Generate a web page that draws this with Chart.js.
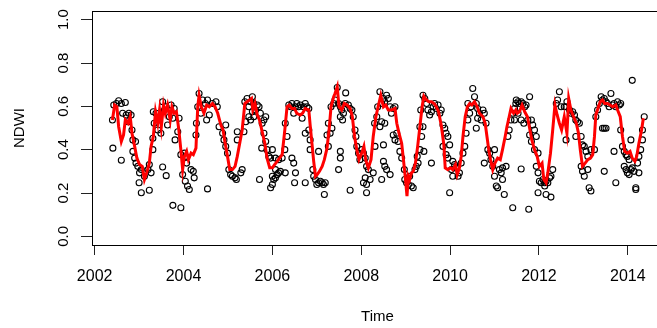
<!DOCTYPE html>
<html lang="en">
<head>
    <meta charset="UTF-8">
    <title>NDWI</title>
    <script src="https://cdn.jsdelivr.net/npm/chart.js"></script>
    <style>
        body { margin: 0; background: #fff; }
        #wrap { width: 657px; height: 328px; overflow: hidden; }
    </style>
    <script>
        // observed NDWI (open circles)
        const obsTime = [
            2002.40, 2002.43, 2002.49, 2002.54, 2002.60, 2002.69, 2002.41, 2002.60, 2002.63, 2002.71,
            2002.77, 2002.82, 2002.75, 2002.84, 2002.86, 2002.92, 2002.86, 2002.90, 2002.93, 2002.97,
            2003.01, 2003.05, 2003.00, 2003.05, 2003.23, 2003.12, 2003.20, 2003.27, 2003.23, 2003.31,
            2003.31, 2003.32, 2003.34, 2003.38, 2003.42, 2003.46, 2003.49, 2003.53, 2003.57, 2003.61,
            2003.64, 2003.68, 2003.72, 2003.76, 2003.79, 2003.81, 2003.87, 2003.90, 2003.53, 2003.61,
            2003.76, 2003.94, 2003.94, 2004.02, 2004.05, 2004.07, 2003.98, 2004.04, 2004.09, 2004.13,
            2004.17, 2004.22, 2004.24, 2004.28, 2004.29, 2004.35, 2004.32, 2004.39, 2004.43, 2004.49,
            2004.54, 2004.58, 2004.52, 2004.65, 2004.73, 2004.76, 2004.54, 2004.80, 2004.88, 2004.91,
            2004.95, 2004.99, 2005.02, 2005.06, 2005.10, 2005.16, 2005.19, 2005.21, 2005.21, 2004.95,
            2005.29, 2005.32, 2005.36, 2005.40, 2005.38, 2005.43, 2005.47, 2005.51, 2005.55, 2005.58,
            2005.62, 2005.66, 2005.70, 2005.47, 2005.51, 2005.55, 2005.58, 2005.73, 2005.77, 2005.81,
            2005.85, 2005.76, 2005.81, 2005.85, 2005.88, 2005.92, 2005.96, 2006.00, 2006.07, 2006.14,
            2006.22, 2006.28, 2006.00, 2006.03, 2006.07, 2006.11, 2006.14, 2006.18, 2006.00, 2006.07,
            2005.71, 2005.96, 2006.29, 2006.44, 2006.48, 2006.52, 2006.50, 2006.29, 2006.33, 2006.37,
            2006.41, 2006.44, 2006.48, 2006.52, 2006.55, 2006.59, 2006.63, 2006.67, 2006.70, 2006.74,
            2006.78, 2006.82, 2006.82, 2006.85, 2006.74, 2006.85, 2006.91, 2006.93, 2006.97, 2007.00,
            2007.04, 2007.08, 2007.12, 2007.15, 2007.19, 2007.17, 2006.74, 2007.04, 2007.23, 2007.30,
            2007.34, 2007.26, 2007.26, 2007.32, 2007.38, 2007.41, 2007.46, 2007.49, 2007.53, 2007.56,
            2007.53, 2007.58, 2007.60, 2007.64, 2007.65, 2007.71, 2007.75, 2007.79, 2007.82, 2007.53,
            2007.49, 2007.53, 2007.86, 2007.88, 2007.90, 2007.94, 2007.97, 2008.01, 2008.05, 2008.09,
            2008.12, 2008.16, 2008.09, 2008.12, 2008.05, 2008.12, 2007.75, 2008.20, 2008.27, 2008.31,
            2008.30, 2008.35, 2008.37,
            2008.42, 2008.46, 2008.50, 2008.53, 2008.57, 2008.61, 2008.65, 2008.68, 2008.72, 2008.76,
            2008.46, 2008.53, 2008.42, 2008.50, 2008.72, 2008.76, 2008.80, 2008.83, 2008.87, 2008.91,
            2008.50, 2008.53, 2008.57, 2008.65, 2008.46, 2008.97, 2008.98, 2009.02, 2009.06, 2009.13,
            2009.17, 2009.09, 2009.21, 2009.24, 2009.28, 2009.26, 2009.32, 2009.36, 2009.39, 2009.41,
            2009.58, 2009.32, 2009.34, 2009.39, 2009.43, 2009.47, 2009.50, 2009.54, 2009.58, 2009.62,
            2009.65, 2009.69, 2009.73, 2009.77, 2009.80, 2009.84, 2009.88, 2009.91, 2009.95, 2009.84,
            2009.99, 2009.91, 2009.95, 2010.06, 2010.10, 2010.14, 2010.18, 2010.06, 2010.03, 2010.21,
            2009.99, 2010.25, 2010.29, 2010.33, 2010.36, 2010.40, 2010.44, 2010.47, 2010.40, 2010.51,
            2010.55, 2010.59, 2010.62, 2010.66, 2010.70, 2010.59, 2010.62, 2010.74, 2010.77, 2010.81,
            2010.85, 2010.89, 2010.77, 2010.92, 2010.96, 2011.00, 2011.04, 2011.07, 2011.11, 2011.15,
            2011.18, 2011.22, 2011.18, 2011.00, 2011.26, 2011.30, 2011.33, 2011.37, 2011.41, 2011.45,
            2011.48, 2011.41,
            2011.45, 2011.49, 2011.53, 2011.56, 2011.60, 2011.64, 2011.68, 2011.71, 2011.53, 2011.60,
            2011.66, 2011.79, 2011.75, 2011.83, 2011.86, 2011.90, 2011.94, 2011.79, 2011.83, 2011.90,
            2011.98, 2011.60, 2011.77, 2011.94, 2011.98, 2012.01, 2012.05, 2012.09, 2012.13, 2012.16,
            2012.20, 2012.24, 2012.27, 2012.13, 2011.98, 2012.16, 2012.27, 2012.31, 2012.39, 2012.42,
            2012.46, 2012.50, 2012.57, 2012.61, 2012.63, 2012.69, 2012.72, 2012.76, 2012.80, 2012.83,
            2012.87, 2012.91, 2012.61, 2012.83, 2012.95, 2012.98, 2013.02, 2013.06, 2013.10, 2013.17,
            2013.25, 2012.95, 2012.98, 2013.02, 2013.10, 2013.13, 2013.17, 2013.47, 2013.28, 2013.32,
            2013.36, 2013.40, 2013.43, 2013.47, 2013.51, 2013.54, 2013.58, 2013.62, 2013.66, 2013.69,
            2013.73, 2013.77, 2013.81, 2013.84, 2013.43, 2013.47, 2013.51, 2013.84, 2013.88, 2013.92,
            2013.96, 2013.99, 2014.03, 2013.92, 2013.96, 2013.99, 2014.03, 2014.07, 2014.10, 2014.14,
            2014.22, 2014.25, 2014.29, 2014.33, 2014.33, 2014.37, 2013.69, 2014.07, 2013.73, 2014.18,
            2014.18, 2014.25, 2014.10
        ];
        const obsNdwi = [
            0.537, 0.606, 0.613, 0.626, 0.613, 0.618, 0.407, 0.351, 0.568, 0.560,
            0.568, 0.560, 0.529, 0.491, 0.445, 0.438, 0.392, 0.361, 0.338, 0.323,
            0.293, 0.308, 0.247, 0.201, 0.213, 0.277, 0.308, 0.293, 0.331, 0.400,
            0.453, 0.575, 0.522, 0.568, 0.491, 0.537, 0.476, 0.621, 0.583, 0.598,
            0.514, 0.552, 0.606, 0.545, 0.590, 0.445, 0.483, 0.545, 0.320, 0.280,
            0.143, 0.132, 0.377, 0.384, 0.369, 0.338, 0.285, 0.254, 0.232, 0.216,
            0.308, 0.300, 0.270, 0.468, 0.522, 0.659, 0.598, 0.568, 0.629, 0.613,
            0.629, 0.560, 0.537, 0.613, 0.621, 0.598, 0.219, 0.506, 0.476, 0.445,
            0.415, 0.384, 0.308, 0.285, 0.277, 0.270, 0.262, 0.445, 0.483, 0.514,
            0.293, 0.308, 0.483, 0.529, 0.621, 0.636, 0.598, 0.621, 0.644, 0.613,
            0.583, 0.606, 0.598, 0.552, 0.537, 0.575, 0.552, 0.568, 0.522, 0.537,
            0.552, 0.407, 0.476, 0.438, 0.400, 0.369, 0.361, 0.400, 0.361, 0.354,
            0.361, 0.400, 0.277, 0.262, 0.270, 0.285, 0.293, 0.300, 0.239, 0.308,
            0.262, 0.224, 0.293, 0.361, 0.338, 0.293, 0.247, 0.522, 0.461, 0.606,
            0.598, 0.613, 0.568, 0.598, 0.613, 0.598, 0.606, 0.545, 0.598, 0.613,
            0.598, 0.590, 0.491, 0.445, 0.476, 0.400, 0.308, 0.277, 0.262, 0.239,
            0.247, 0.254, 0.247, 0.239, 0.247, 0.193, 0.247, 0.392, 0.468, 0.476,
            0.499, 0.415, 0.522, 0.598, 0.613, 0.629, 0.687, 0.613, 0.598, 0.583,
            0.552, 0.537, 0.568, 0.613, 0.662, 0.606, 0.590, 0.583, 0.552, 0.392,
            0.308, 0.361, 0.491, 0.461, 0.415, 0.384, 0.354, 0.400, 0.384, 0.361,
            0.323, 0.308, 0.270, 0.239, 0.247, 0.201, 0.213, 0.262, 0.293, 0.415,
            0.522, 0.552, 0.598,
            0.667, 0.613, 0.636, 0.621, 0.651, 0.636, 0.598, 0.568, 0.590, 0.598,
            0.529, 0.522, 0.506, 0.422, 0.468, 0.445, 0.476, 0.438, 0.392, 0.361,
            0.346, 0.323, 0.308, 0.285, 0.262, 0.308, 0.262, 0.247, 0.239, 0.232,
            0.224, 0.277, 0.308, 0.323, 0.338, 0.369, 0.400, 0.461, 0.506, 0.392,
            0.338, 0.506, 0.583, 0.651, 0.636, 0.613, 0.583, 0.560, 0.575, 0.598,
            0.613, 0.590, 0.606, 0.568, 0.583, 0.514, 0.499, 0.476, 0.461, 0.415,
            0.422, 0.377, 0.361, 0.346, 0.331, 0.316, 0.277, 0.277, 0.308, 0.293,
            0.201, 0.338, 0.384, 0.415, 0.476, 0.537, 0.568, 0.598, 0.613, 0.682,
            0.644, 0.613, 0.590, 0.568, 0.537, 0.499, 0.545, 0.583, 0.568, 0.522,
            0.400, 0.384, 0.338, 0.354, 0.323, 0.277, 0.232, 0.224, 0.308, 0.293,
            0.262, 0.193, 0.316, 0.400, 0.323, 0.461, 0.491, 0.537, 0.568, 0.590,
            0.613, 0.132,
            0.537, 0.629, 0.621, 0.613, 0.621, 0.613, 0.598, 0.606, 0.568, 0.537,
            0.522, 0.644, 0.537, 0.537, 0.514, 0.491, 0.461, 0.468, 0.438, 0.400,
            0.384, 0.311, 0.125, 0.323, 0.293, 0.254, 0.247, 0.262, 0.247, 0.254,
            0.247, 0.270, 0.277, 0.232, 0.201, 0.193, 0.181, 0.308, 0.613, 0.629,
            0.667, 0.598, 0.598, 0.598, 0.621, 0.583, 0.568, 0.575, 0.560, 0.537,
            0.529, 0.522, 0.445, 0.461, 0.461, 0.422, 0.415, 0.392, 0.369, 0.400,
            0.400, 0.323, 0.300, 0.277, 0.308, 0.224, 0.209, 0.300, 0.552, 0.583,
            0.613, 0.644, 0.629, 0.636, 0.621, 0.613, 0.598, 0.659, 0.606, 0.613,
            0.598, 0.621, 0.606, 0.613, 0.499, 0.499, 0.499, 0.491, 0.415, 0.392,
            0.377, 0.369, 0.354, 0.323, 0.308, 0.293, 0.285, 0.308, 0.316, 0.300,
            0.338, 0.369, 0.400, 0.445, 0.491, 0.552, 0.392, 0.445, 0.247, 0.224,
            0.216, 0.293, 0.720
        ];

        // smoothed NDWI (red line)
        const fitTime = [
            2002.40, 2002.45, 2002.50, 2002.54, 2002.60, 2002.65, 2002.69, 2002.75, 2002.80, 2002.84,
            2002.90, 2002.95, 2003.01, 2003.07, 2003.12, 2003.17, 2003.23, 2003.27, 2003.32, 2003.37,
            2003.42, 2003.46, 2003.50, 2003.55, 2003.59, 2003.64, 2003.70, 2003.74, 2003.79, 2003.84,
            2003.89, 2003.94, 2003.98, 2004.02, 2004.07, 2004.11, 2004.17, 2004.22, 2004.28, 2004.32,
            2004.35, 2004.40, 2004.46, 2004.52, 2004.58, 2004.65, 2004.71, 2004.77, 2004.84, 2004.89,
            2004.93, 2004.99, 2005.04, 2005.10, 2005.16, 2005.21,
            2005.32, 2005.38, 2005.43, 2005.49, 2005.53, 2005.56, 2005.61, 2005.66, 2005.71, 2005.77,
            2005.83, 2005.88, 2005.94, 2006.00, 2006.05, 2006.11, 2006.16, 2006.22, 2006.28, 2006.33,
            2006.38, 2006.44, 2006.50, 2006.55, 2006.63, 2006.68, 2006.74, 2006.82, 2006.85, 2006.89,
            2006.93, 2006.97, 2007.01, 2007.06, 2007.12, 2007.17, 2007.23, 2007.28, 2007.32, 2007.38,
            2007.41, 2007.46, 2007.50, 2007.56, 2007.62, 2007.68, 2007.75, 2007.80, 2007.85, 2007.90,
            2007.95, 2008.01, 2008.06, 2008.10, 2008.16, 2008.22, 2008.27, 2008.33, 2008.38,
            2008.44, 2008.50, 2008.55, 2008.61, 2008.68, 2008.76, 2008.80, 2008.85, 2008.91, 2008.95,
            2008.99, 2009.03, 2009.06, 2009.09, 2009.13, 2009.17, 2009.22, 2009.27, 2009.32, 2009.37,
            2009.41, 2009.47, 2009.52, 2009.58, 2009.64, 2009.69, 2009.74, 2009.80, 2009.86, 2009.89,
            2009.95, 2010.01, 2010.06, 2010.12, 2010.16, 2010.21, 2010.25, 2010.29, 2010.34, 2010.39,
            2010.44, 2010.49, 2010.55, 2010.61, 2010.66, 2010.74, 2010.79, 2010.83, 2010.87, 2010.91,
            2010.96, 2011.01, 2011.07, 2011.13, 2011.18, 2011.24, 2011.28, 2011.33, 2011.37, 2011.43,
            2011.48,
            2011.51, 2011.56, 2011.62, 2011.68, 2011.74, 2011.79, 2011.84, 2011.90, 2011.96, 2012.01,
            2012.07, 2012.11, 2012.16, 2012.20, 2012.26, 2012.31, 2012.36, 2012.41, 2012.46, 2012.51,
            2012.57, 2012.63, 2012.67, 2012.72, 2012.78, 2012.84, 2012.89, 2012.93, 2012.98, 2013.04,
            2013.10, 2013.16, 2013.21, 2013.25, 2013.28, 2013.34, 2013.38, 2013.43, 2013.48, 2013.54,
            2013.60, 2013.66, 2013.73, 2013.77, 2013.83, 2013.88, 2013.93, 2013.99, 2014.05, 2014.10,
            2014.16, 2014.20, 2014.25, 2014.31, 2014.35
        ];
        const fitNdwi = [
            0.537, 0.606, 0.598, 0.506, 0.438, 0.468, 0.537, 0.522, 0.552, 0.476,
            0.415, 0.361, 0.331, 0.323, 0.262, 0.293, 0.338, 0.415, 0.461, 0.575,
            0.522, 0.583, 0.506, 0.606, 0.568, 0.606, 0.537, 0.598, 0.568, 0.575,
            0.499, 0.400, 0.308, 0.369, 0.392, 0.354, 0.384, 0.377, 0.407, 0.598,
            0.651, 0.598, 0.568, 0.606, 0.598, 0.613, 0.598, 0.568, 0.514, 0.491,
            0.438, 0.369, 0.308, 0.308, 0.323, 0.369,
            0.491, 0.613, 0.621, 0.629, 0.636, 0.583, 0.613, 0.560, 0.537, 0.483,
            0.430, 0.361, 0.316, 0.316, 0.331, 0.346, 0.361, 0.377, 0.491, 0.598,
            0.606, 0.590, 0.590, 0.568, 0.560, 0.568, 0.590, 0.583, 0.514, 0.430,
            0.346, 0.277, 0.285, 0.300, 0.323, 0.354, 0.407, 0.499, 0.598, 0.644,
            0.659, 0.690, 0.598, 0.583, 0.613, 0.606, 0.590, 0.552, 0.461, 0.400,
            0.354, 0.384, 0.415, 0.354, 0.316, 0.354, 0.461, 0.552, 0.598,
            0.651, 0.598, 0.606, 0.583, 0.583, 0.590, 0.522, 0.476, 0.430, 0.354,
            0.277, 0.186, 0.277, 0.262, 0.293, 0.300, 0.338, 0.415, 0.506, 0.598,
            0.647, 0.629, 0.621, 0.621, 0.613, 0.598, 0.575, 0.514, 0.422, 0.316,
            0.308, 0.316, 0.308, 0.331, 0.285, 0.316, 0.369, 0.461, 0.552, 0.598,
            0.613, 0.606, 0.621, 0.598, 0.568, 0.552, 0.522, 0.461, 0.400, 0.354,
            0.308, 0.338, 0.361, 0.354, 0.400, 0.461, 0.506, 0.552, 0.590, 0.568,
            0.583,
            0.568, 0.575, 0.606, 0.575, 0.552, 0.499, 0.445, 0.400, 0.369, 0.323,
            0.338, 0.262, 0.247, 0.293, 0.384, 0.491, 0.606, 0.560, 0.522, 0.491,
            0.552, 0.476, 0.636, 0.583, 0.552, 0.522, 0.476, 0.400, 0.323, 0.338,
            0.354, 0.361, 0.377, 0.461, 0.560, 0.598, 0.621, 0.629, 0.613, 0.613,
            0.606, 0.598, 0.606, 0.583, 0.552, 0.461, 0.392, 0.384, 0.392, 0.361,
            0.346, 0.369, 0.430, 0.491, 0.545
        ];

        const xTicks = [2002, 2004, 2006, 2008, 2010, 2012, 2014];
        const yTicks = [0.0, 0.2, 0.4, 0.6, 0.8, 1.0];

        const FONT = "'Liberation Sans', Arial, sans-serif";

        // box round the plot and rotated y tick labels, R style
        const rStyle = {
            id: 'rStyle',
            afterDraw(chart) {
                const ctx = chart.ctx;
                const a = chart.chartArea;
                ctx.save();
                ctx.strokeStyle = '#000';
                ctx.lineWidth = 1;
                ctx.strokeRect(Math.round(a.left) + 0.5, Math.round(a.top) + 0.5,
                    Math.round(a.right - a.left), Math.round(a.bottom - a.top));
                const y = chart.scales.y;
                ctx.fillStyle = '#000';
                ctx.font = '15px ' + FONT;
                ctx.textAlign = 'center';
                ctx.textBaseline = 'middle';
                yTicks.forEach(v => {
                    ctx.save();
                    ctx.translate(64, y.getPixelForValue(v));
                    ctx.rotate(-Math.PI / 2);
                    ctx.fillText(v.toFixed(1), 0, 0);
                    ctx.restore();
                });
                ctx.restore();
            }
        };

        function drawChart(ctx) {
            const obs = obsTime.map((t, i) => ({x: t, y: obsNdwi[i]}));
            const fit = fitTime.map((t, i) => ({x: t, y: fitNdwi[i]}));

            new Chart(ctx, {
                type: 'scatter',
                data: {
                    datasets: [{
                        label: 'smoothed',
                        data: fit,
                        showLine: true,
                        borderColor: '#ff0000',
                        borderWidth: 3,
                        pointRadius: 0,
                        tension: 0,
                        order: 0
                    }, {
                        label: 'NDWI',
                        data: obs,
                        pointStyle: 'circle',
                        pointRadius: 3,
                        pointBorderWidth: 1.1,
                        pointBorderColor: '#000',
                        pointBackgroundColor: 'rgba(0,0,0,0)',
                        order: 1
                    }]
                },
                options: {
                    responsive: false,
                    animation: false,
                    devicePixelRatio: 1,
                    layout: {padding: {top: 11, right: 2, left: 0, bottom: 0}},
                    plugins: {legend: {display: false}, tooltip: {enabled: false}},
                    scales: {
                        x: {
                            type: 'linear',
                            min: 2001.94,
                            max: 2014.79,
                            afterBuildTicks: s => { s.ticks = xTicks.map(v => ({value: v})); },
                            afterFit: s => { s.height = 83; },
                            border: {display: false},
                            grid: {drawOnChartArea: false, drawTicks: true, tickLength: 10, color: '#222'},
                            ticks: {
                                color: '#000', padding: 12, maxRotation: 0,
                                font: {family: FONT, size: 16},
                                callback: v => String(v)
                            },
                            title: {
                                display: true, text: 'Time', color: '#000',
                                font: {family: FONT, size: 15}, padding: {top: 0, bottom: 2}
                            }
                        },
                        y: {
                            type: 'linear',
                            min: -0.04,
                            max: 1.04,
                            afterBuildTicks: s => { s.ticks = yTicks.map(v => ({value: v})); },
                            afterFit: s => { s.width = 92; },
                            border: {display: false},
                            grid: {drawOnChartArea: false, drawTicks: true, tickLength: 11, color: '#222'},
                            ticks: {display: false},
                            title: {
                                display: true, text: 'NDWI', color: '#000',
                                font: {family: FONT, size: 15}, padding: {top: 11, bottom: 0}
                            }
                        }
                    }
                },
                plugins: [rStyle]
            });
        }
    </script>
</head>
<body>
<div id="wrap">
    <canvas id="myChart" width="668" height="328" style="width:668px;height:328px"></canvas>
</div>
<script>
    drawChart(document.getElementById("myChart"));
</script>
</body>
</html>
